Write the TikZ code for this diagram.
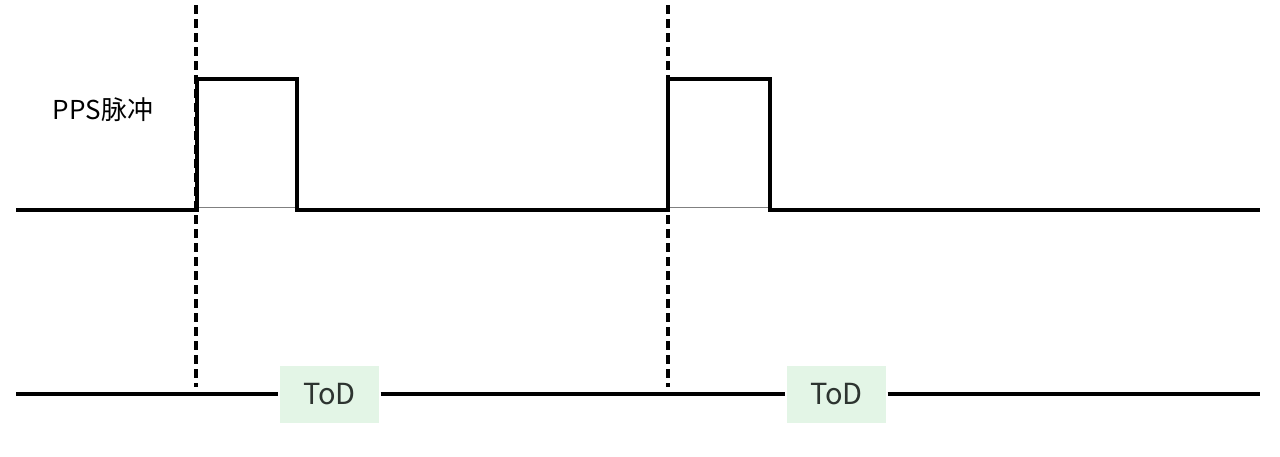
\documentclass[tikz,border=0pt]{standalone}
\usepackage{fontspec}
\setmainfont{Noto Sans CJK SC}
\usepackage{tikz}

\definecolor{todgreen}{RGB}{227,245,230}
\definecolor{todtext}{RGB}{45,52,48}

\begin{document}
\begin{tikzpicture}[x=0.5pt,y=-0.5pt,line width=1.6pt]

        \useasboundingbox (0,0) rectangle (1280,456);

        % PPS signal
        \coordinate (s0) at (16,210);
        \coordinate (r1) at (197,210);
        \coordinate (h1) at (197,79);
        \coordinate (h2) at (297,79);
        \coordinate (f1) at (297,210);
        \coordinate (r2) at (668,210);
        \coordinate (h3) at (668,79);
        \coordinate (h4) at (770,79);
        \coordinate (f2) at (770,210);
        \coordinate (s1) at (1260,210);
        \coordinate (g1) at (199,207);
        \coordinate (g2) at (295,207);
        \coordinate (g3) at (670,207);
        \coordinate (g4) at (768,207);

        % ToD line
        \coordinate (b0) at (16,394);
        \coordinate (b1) at (1260,394);

        % marks
        \coordinate (m1) at (196,5);
        \coordinate (m2) at (196,387);
        \coordinate (m3) at (668,5);
        \coordinate (m4) at (668,387);

        \begin{scope}[every node/.style={fill=todgreen, text=todtext, minimum width=49.5pt, minimum height=28.5pt, inner sep=0pt, font=\fontsize{14.5}{16}\selectfont}]
          \node (t1) at (329.5,394) {ToD};
          \node (t2) at (836.5,394) {ToD};
        \end{scope}

        \node (l1) at (103,110) {\fontsize{13}{15}\selectfont PPS脉冲};

        \draw[line width=0.5pt, gray] (g1) -- (g2);
        \draw[line width=0.5pt, gray] (g3) -- (g4);

        \draw (s0) -- (r1) -- (h1) -- (h2) -- (f1) -- (r2) -- (h3) -- (h4) -- (f2) -- (s1);

        \begin{scope}[every edge/.style={draw}]
          \path (b0) edge (t1.west);
          \path (t1.east) edge (t2.west);
          \path (t2.east) edge (b1);
          \path (m1) edge[dash pattern=on 4.5pt off 2.5pt] (m2);
          \path (m3) edge[dash pattern=on 4.5pt off 2.5pt] (m4);
        \end{scope}

      \end{tikzpicture}
\end{document}
